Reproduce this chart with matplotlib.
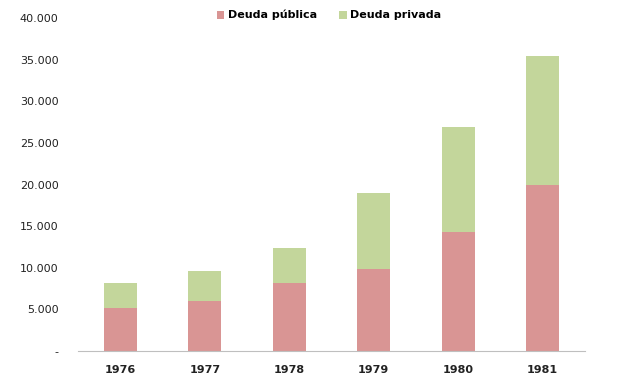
import numpy as np
import matplotlib.pyplot as plt
from matplotlib.ticker import FuncFormatter

years = ['1976', '1977', '1978', '1979', '1980', '1981']
deuda_publica = [5200, 6000, 8200, 9800, 14300, 19900]
deuda_privada = [3000, 3600, 4200, 9200, 12600, 15500]

fig = plt.figure(figsize=(6.4, 3.84), dpi=100)
ax = fig.add_axes([0.122, 0.086, 0.792, 0.867])

x = np.arange(len(years))
ax.bar(x, deuda_publica, width=0.39, color='#D99594', label='Deuda pública')
ax.bar(x, deuda_privada, width=0.39, bottom=deuda_publica, color='#C3D69B', label='Deuda privada')

ax.set_xlim(-0.5, len(years) - 0.5)
ax.set_ylim(0, 40000)
ax.set_yticks(np.arange(0, 40001, 5000))
ax.yaxis.set_major_formatter(FuncFormatter(
    lambda v, p: '-' if v == 0 else '{:,.0f}'.format(v).replace(',', '.')))
ax.set_xticks(x)
ax.set_xticklabels(years)

for s in ['top', 'right', 'left']:
    ax.spines[s].set_visible(False)
ax.spines['bottom'].set_color('#BFBFBF')
ax.tick_params(axis='both', length=0, labelsize=8, colors='#222222')
ax.tick_params(axis='x', pad=10)
ax.tick_params(axis='y', pad=14)
for lab in ax.get_xticklabels():
    lab.set_fontweight('bold')

fig.legend(loc='upper center', bbox_to_anchor=(0.514, 1.0), ncol=2, frameon=False,
           handlelength=0.7, handleheight=0.7, columnspacing=2.0,
           handletextpad=0.3, prop={'weight': 'bold', 'size': 8})

fig.savefig('out.png', dpi=100)
